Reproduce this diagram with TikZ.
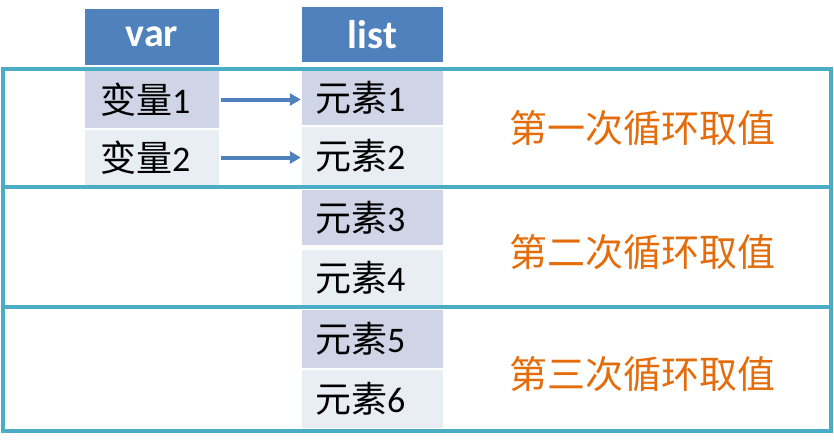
\documentclass[tikz,border=0pt]{standalone}
\usepackage{fontspec}
\usetikzlibrary{arrows.meta}
\setmainfont{Carlito}
\newfontfamily\cjk{Noto Sans CJK SC}
\definecolor{headblue}{HTML}{4F81BD}
\definecolor{rowdark}{HTML}{CFD5E6}
\definecolor{rowlight}{HTML}{E9EDF4}
\definecolor{loopteal}{HTML}{4BACC6}
\definecolor{looporange}{HTML}{E46C0A}
\begin{document}
\begin{tikzpicture}[x=1pt, y=-1pt, inner sep=0pt,
    head/.style={rectangle, fill=headblue, text=white, font=\fontsize{40}{44}\selectfont\bfseries},
    cell/.style={rectangle, align=left, font=\fontsize{36}{40}\selectfont},
    varcell/.style={cell, inner xsep=15pt, text width=104pt},
    listcell/.style={cell, inner xsep=13pt, text width=115pt},
    dark/.style={fill=rowdark},
    light/.style={fill=rowlight},
    loopbox/.style={draw=loopteal, line width=4pt},
    looptext/.style={text=looporange, font=\cjk\fontsize{38}{42}\selectfont},
    link/.style={-{Triangle[length=11pt,width=12pt]}, draw=headblue, line width=4pt, shorten <=2pt, shorten >=1pt}]
  \useasboundingbox (0,0) rectangle (834,447);

  \node[head, minimum width=134pt, minimum height=56pt] (var) at (152,37) {var};
  \node[head, minimum width=141pt, minimum height=55pt] (list) at (372.5,34.5) {list};

  \node[varcell, dark, minimum height=57pt] (v1) at (152,99.5) {{\cjk 变量}1};
  \node[varcell, light, minimum height=55pt] (v2) at (152,157.5) {{\cjk 变量}2};

  \node[listcell, dark, minimum height=54pt] (e1) at (372.5,98) {{\cjk 元素}1};
  \node[listcell, light, minimum height=58pt] (e2) at (372.5,156) {{\cjk 元素}2};
  \node[listcell, dark, minimum height=55pt] (e3) at (372.5,217.5) {{\cjk 元素}3};
  \node[listcell, light, minimum height=55pt] (e4) at (372.5,277.5) {{\cjk 元素}4};
  \node[listcell, dark, minimum height=58pt] (e5) at (372.5,339) {{\cjk 元素}5};
  \node[listcell, light, minimum height=58pt] (e6) at (372.5,399) {{\cjk 元素}6};

  \draw[loopbox] (3,69) rectangle (831,187);
  \draw[loopbox] (3,187) rectangle (831,307);
  \draw[loopbox] (3,307) rectangle (831,431);

  \node[looptext] (t1) at (642,128) {第一次循环取值};
  \node[looptext] (t2) at (642,252) {第二次循环取值};
  \node[looptext] (t3) at (642,374) {第三次循环取值};

  \draw[link] (v1) to (e1.west |- v1);
  \draw[link] (v2) to (e2.west |- v2);
\end{tikzpicture}
\end{document}
